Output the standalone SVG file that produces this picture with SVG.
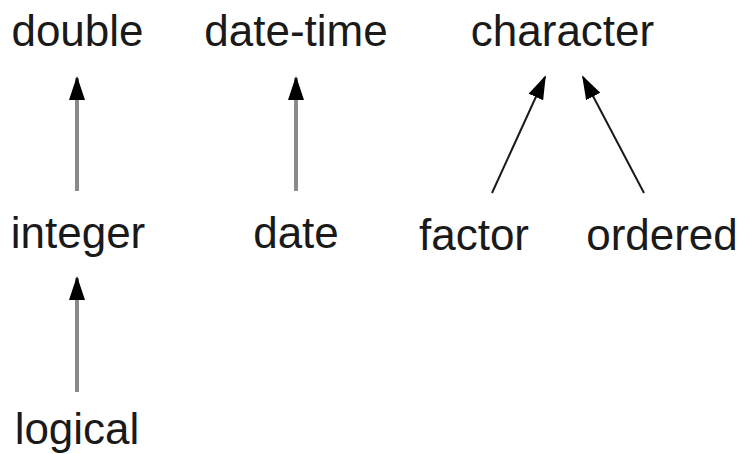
<svg xmlns="http://www.w3.org/2000/svg" width="739" height="454" viewBox="0 0 739 454">
<style>
text{font-family:"Liberation Sans",Arial,sans-serif;font-size:44px;fill:#1a1a1a;text-anchor:middle}
.g{stroke:#8a8a8a;stroke-width:4;fill:none}
.b{stroke:#1a1a1a;stroke-width:2;fill:none}
</style>
<defs>
<marker id="ah" markerUnits="userSpaceOnUse" markerWidth="24" markerHeight="18" refX="22" refY="8" orient="auto" viewBox="0 0 24 16">
<path d="M0,0 L24,8 L0,16 z" fill="#000"/>
</marker>
</defs>
<rect width="739" height="454" fill="#fff"/>
<g id="double"><text x="77.5" y="46">double</text></g>
<g id="date-time"><text x="296" y="46">date-time</text></g>
<g id="character"><text x="562.5" y="46">character</text></g>
<g id="integer"><text x="78" y="248">integer</text></g>
<g id="date"><text x="296" y="248">date</text></g>
<g id="factor"><text x="474" y="250">factor</text></g>
<g id="ordered"><text x="662" y="250">ordered</text></g>
<g id="logical"><text x="77" y="444">logical</text></g>
<g id="connectors">
<line class="g" x1="77" y1="191" x2="77" y2="78" marker-end="url(#ah)"/>
<line class="g" x1="296" y1="191" x2="296" y2="78" marker-end="url(#ah)"/>
<line class="g" x1="77" y1="392" x2="77" y2="278" marker-end="url(#ah)"/>
<line class="b" x1="492" y1="193" x2="545" y2="77" marker-end="url(#ah)"/>
<line class="b" x1="644" y1="193" x2="583" y2="77" marker-end="url(#ah)"/>
</g>
</svg>
